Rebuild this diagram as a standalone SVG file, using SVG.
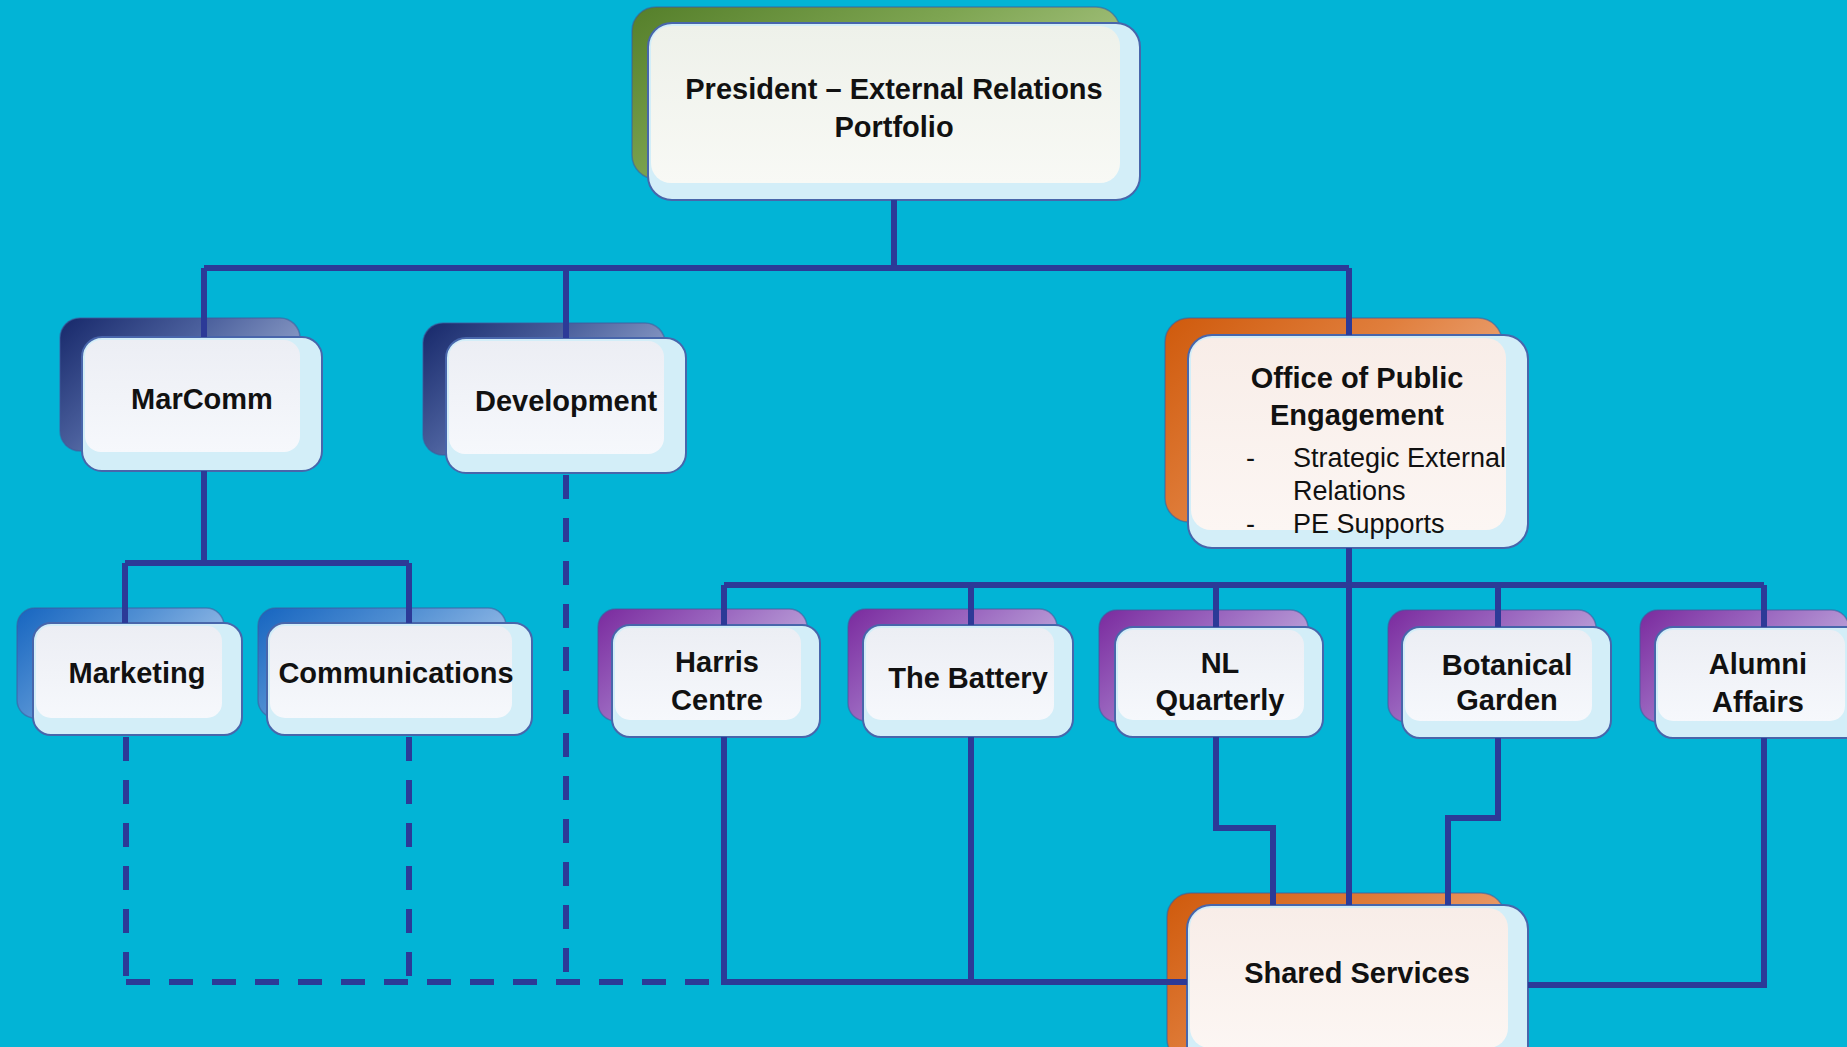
<svg xmlns="http://www.w3.org/2000/svg" width="1847" height="1047" viewBox="0 0 1847 1047">
  <defs>
    <style>
      .bg{fill:#02b4d6}
      .back{stroke:#3f5a9a;stroke-width:1.5;stroke-opacity:.55}
      .front{fill:#d3eef8;stroke:#4866ab;stroke-width:2}
      .inner{fill:url(#gInCool)}
      .innerW{fill:url(#gInWarm)}
      .innerG{fill:url(#gInGreen)}
      .navy{fill:url(#gNavy)}
      .blue{fill:url(#gBlue)}
      .purple{fill:url(#gPurple)}
      .orange{fill:url(#gOrange)}
      .green{fill:url(#gGreen)}
      .title{font-family:"Liberation Sans",Arial,sans-serif;font-weight:bold;font-size:29px;fill:#111;text-anchor:middle}
      .body{font-family:"Liberation Sans",Arial,sans-serif;font-size:27px;fill:#111}
      .ln{fill:none;stroke:#2c3a97;stroke-width:6;stroke-linejoin:miter}
      .dash{stroke-dasharray:24 19}
    </style>
    <!-- shadow plates behind each card, dark at top-left fading to the right -->
    <linearGradient id="gNavy" x1="0" y1="0" x2="1" y2="0.6">
      <stop offset="0" stop-color="#17286a"/>
      <stop offset="0.45" stop-color="#4a5f9c"/>
      <stop offset="1" stop-color="#a3b3d6"/>
    </linearGradient>
    <linearGradient id="gBlue" x1="0" y1="0" x2="1" y2="0.6">
      <stop offset="0" stop-color="#1665c0"/>
      <stop offset="0.45" stop-color="#4f8ed2"/>
      <stop offset="1" stop-color="#a9c8ec"/>
    </linearGradient>
    <linearGradient id="gPurple" x1="0" y1="0" x2="1" y2="0.6">
      <stop offset="0" stop-color="#7a2a9e"/>
      <stop offset="0.45" stop-color="#9a66bf"/>
      <stop offset="1" stop-color="#c6b6e2"/>
    </linearGradient>
    <linearGradient id="gOrange" x1="0" y1="0" x2="1" y2="0.6">
      <stop offset="0" stop-color="#cf5a0c"/>
      <stop offset="0.5" stop-color="#e07e3c"/>
      <stop offset="1" stop-color="#efb08a"/>
    </linearGradient>
    <linearGradient id="gGreen" x1="0" y1="0" x2="1" y2="0.6">
      <stop offset="0" stop-color="#557f2a"/>
      <stop offset="0.5" stop-color="#7ea552"/>
      <stop offset="1" stop-color="#b3cc8e"/>
    </linearGradient>
    <!-- card faces -->
    <linearGradient id="gInCool" x1="0" y1="0" x2="0" y2="1">
      <stop offset="0" stop-color="#eceef4"/>
      <stop offset="1" stop-color="#f6f8fc"/>
    </linearGradient>
    <linearGradient id="gInWarm" x1="0" y1="0" x2="0" y2="1">
      <stop offset="0" stop-color="#f8ede8"/>
      <stop offset="1" stop-color="#fcf6f3"/>
    </linearGradient>
    <linearGradient id="gInGreen" x1="0" y1="0" x2="0" y2="1">
      <stop offset="0" stop-color="#eef1ea"/>
      <stop offset="1" stop-color="#f8f9f5"/>
    </linearGradient>
  </defs>

  <rect class="bg" x="0" y="0" width="1847" height="1047"/>

  <!-- President -->
  <g id="president">
    <rect class="back green" x="632" y="7" width="488" height="172" rx="24"/>
    <rect class="front" x="648" y="23" width="492" height="177" rx="24"/>
    <rect class="innerG" x="651" y="26" width="469" height="157" rx="20"/>
    <text class="title" x="894" y="99">President – External Relations</text>
    <text class="title" x="894" y="137">Portfolio</text>
  </g>

  <!-- MarComm -->
  <g id="marcomm">
    <rect class="back navy" x="60" y="318" width="240" height="133" rx="20"/>
    <rect class="front" x="82" y="337" width="240" height="134" rx="20"/>
    <rect class="inner" x="85" y="340" width="215" height="112" rx="16"/>
    <text class="title" x="202" y="409">MarComm</text>
  </g>

  <!-- Development -->
  <g id="development">
    <rect class="back navy" x="423" y="323" width="242" height="132" rx="20"/>
    <rect class="front" x="446" y="338" width="240" height="135" rx="20"/>
    <rect class="inner" x="449" y="341" width="215" height="113" rx="16"/>
    <text class="title" x="566" y="411">Development</text>
  </g>

  <!-- Office of Public Engagement -->
  <g id="ope">
    <rect class="back orange" x="1165" y="318" width="337" height="204" rx="24"/>
    <rect class="front" x="1188" y="335" width="340" height="213" rx="24"/>
    <rect class="innerW" x="1191" y="338" width="315" height="192" rx="20"/>
    <text class="title" x="1357" y="388">Office of Public</text>
    <text class="title" x="1357" y="425">Engagement</text>
    <text class="body" x="1246" y="467">-</text>
    <text class="body" x="1293" y="467">Strategic External</text>
    <text class="body" x="1293" y="500">Relations</text>
    <text class="body" x="1246" y="533">-</text>
    <text class="body" x="1293" y="533">PE Supports</text>
  </g>

  <!-- Marketing -->
  <g id="marketing">
    <rect class="back blue" x="17" y="608" width="207" height="110" rx="18"/>
    <rect class="front" x="33" y="623" width="209" height="112" rx="18"/>
    <rect class="inner" x="36" y="626" width="186" height="92" rx="15"/>
    <text class="title" x="137" y="683">Marketing</text>
  </g>

  <!-- Communications -->
  <g id="communications">
    <rect class="back blue" x="258" y="608" width="248" height="110" rx="18"/>
    <rect class="front" x="267" y="623" width="265" height="112" rx="18"/>
    <rect class="inner" x="270" y="626" width="242" height="92" rx="15"/>
    <text class="title" x="396" y="683">Communications</text>
  </g>

  <!-- Harris Centre -->
  <g id="harris">
    <rect class="back purple" x="598" y="609" width="209" height="112" rx="18"/>
    <rect class="front" x="612" y="625" width="208" height="112" rx="18"/>
    <rect class="inner" x="615" y="628" width="186" height="92" rx="15"/>
    <text class="title" x="717" y="672">Harris</text>
    <text class="title" x="717" y="710">Centre</text>
  </g>

  <!-- The Battery -->
  <g id="battery">
    <rect class="back purple" x="848" y="609" width="209" height="112" rx="18"/>
    <rect class="front" x="863" y="625" width="210" height="112" rx="18"/>
    <rect class="inner" x="866" y="628" width="188" height="92" rx="15"/>
    <text class="title" x="968" y="688">The Battery</text>
  </g>

  <!-- NL Quarterly -->
  <g id="nlq">
    <rect class="back purple" x="1099" y="610" width="209" height="112" rx="18"/>
    <rect class="front" x="1115" y="627" width="208" height="110" rx="18"/>
    <rect class="inner" x="1118" y="630" width="186" height="90" rx="15"/>
    <text class="title" x="1220" y="673">NL</text>
    <text class="title" x="1220" y="710">Quarterly</text>
  </g>

  <!-- Botanical Garden -->
  <g id="botanical">
    <rect class="back purple" x="1388" y="610" width="208" height="112" rx="18"/>
    <rect class="front" x="1402" y="627" width="209" height="111" rx="18"/>
    <rect class="inner" x="1405" y="630" width="187" height="91" rx="15"/>
    <text class="title" x="1507" y="675">Botanical</text>
    <text class="title" x="1507" y="710">Garden</text>
  </g>

  <!-- Alumni Affairs -->
  <g id="alumni">
    <rect class="back purple" x="1640" y="610" width="209" height="112" rx="18"/>
    <rect class="front" x="1655" y="627" width="209" height="111" rx="18"/>
    <rect class="inner" x="1658" y="630" width="187" height="91" rx="15"/>
    <text class="title" x="1758" y="674">Alumni</text>
    <text class="title" x="1758" y="712">Affairs</text>
  </g>

  <!-- Shared Services -->
  <g id="shared">
    <rect class="back orange" x="1167" y="893" width="338" height="170" rx="24"/>
    <rect class="front" x="1187" y="905" width="341" height="165" rx="24"/>
    <rect class="innerW" x="1190" y="908" width="318" height="140" rx="20"/>
    <text class="title" x="1357" y="983">Shared Services</text>
  </g>

  <!-- reporting lines -->
  <g id="connectors">
    <path class="ln" d="M894 200V268M204 268H1349M204 268V337M566 268V338M1349 268V335"/>
    <path class="ln" d="M204 471V563M125 563H409M125 563V623M409 563V623"/>
    <path class="ln dash" d="M126 737V982M409 737V982M566 475V982M126 982H724"/>
    <path class="ln" d="M1349 548V905M724 585H1764M724 585V625M971 585V625M1216 585V627M1498 585V627M1764 585V627"/>
    <path class="ln" d="M724 737V982H1187M971 737V982"/>
    <path class="ln" d="M1216 737V828H1273V905"/>
    <path class="ln" d="M1498 738V818H1448V905"/>
    <path class="ln" d="M1764 738V985H1528"/>
  </g>
</svg>
